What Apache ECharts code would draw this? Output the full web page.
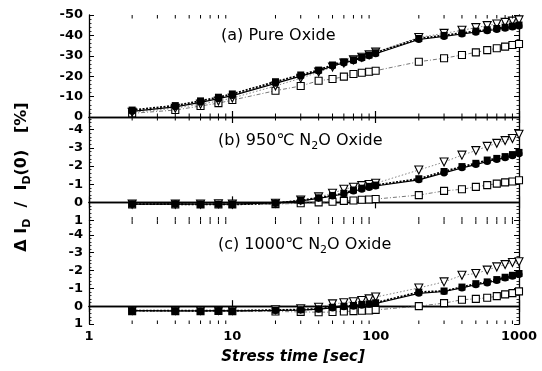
<!DOCTYPE html>
<html><head><meta charset="utf-8">
<script src="https://cdn.jsdelivr.net/npm/echarts@6/dist/echarts.min.js"></script>
<style>html,body{margin:0;padding:0;background:#fff}#c{width:542px;height:371px}</style>
</head><body><div id="c"></div>
<script>
// ---- data ----
const times = [2,4,6,8,10,20,30,40,50,60,70,80,90,100,200,300,400,500,600,700,800,900,1000];
const xMinorTicks = [2,3,4,5,6,7,8,9,20,30,40,50,60,70,80,90,200,300,400,500,600,700,800,900];

const yTicksA = [-50,-40,-30,-20,-10,0];
const yTicksB = [-4,-3,-2,-1,0,1];
const yTicksC = [-4,-3,-2,-1,0,1];

// panel (a) Pure Oxide
const aSqFilled = [-3.4,-5.6,-7.9,-9.7,-11.3,-17.3,-20.6,-23,-25.5,-27,-28,-29.2,-30.4,-31.5,-38.5,-40,-41.2,-42.1,-42.8,-43.4,-44,-44.6,-45.1];
const aCircle   = [-2.8,-5,-7.2,-9,-10.5,-16.5,-20,-22.5,-25,-26.5,-27.6,-28.8,-30,-31,-38,-39.5,-40.7,-41.6,-42.3,-42.9,-43.5,-44.1,-44.6];
const aTriOpen  = [-2.3,-4.3,-6.3,-7.8,-9.3,-15.2,-19,-22,-24.5,-26.5,-28,-29.3,-30.5,-31.8,-39,-41,-42.5,-43.8,-44.8,-45.6,-46.4,-47,-47.6];
const aSqOpen   = [-1.8,-3.4,-5.4,-6.8,-8.3,-12.9,-15.2,-17.8,-18.6,-19.8,-21.1,-21.7,-22.2,-22.7,-27.1,-28.8,-30.4,-31.7,-32.8,-33.7,-34.5,-35.3,-35.8];

// panel (b) 950C N2O Oxide
const bSqFilled = [0.1,0.1,0.12,0.1,0.12,0.05,-0.1,-0.25,-0.38,-0.5,-0.68,-0.78,-0.88,-0.95,-1.3,-1.7,-1.97,-2.15,-2.33,-2.42,-2.52,-2.63,-2.75];
const bCircle   = [0.1,0.08,0.1,0.1,0.1,0.03,-0.08,-0.22,-0.35,-0.47,-0.62,-0.72,-0.82,-0.9,-1.24,-1.62,-1.9,-2.08,-2.25,-2.36,-2.46,-2.56,-2.68];
const bTriOpen  = [0.1,0.1,0.1,0.08,0.1,0.05,-0.12,-0.3,-0.5,-0.72,-0.83,-0.92,-0.98,-1.05,-1.78,-2.22,-2.6,-2.85,-3.08,-3.25,-3.4,-3.52,-3.75];
const bSqOpen   = [0.12,0.12,0.12,0.12,0.12,0.1,0.05,0,-0.03,-0.08,-0.1,-0.14,-0.16,-0.18,-0.4,-0.63,-0.72,-0.85,-0.95,-1.03,-1.1,-1.15,-1.22];

// panel (c) 1000C N2O Oxide
const cSqFilled = [0.25,0.25,0.26,0.25,0.26,0.22,0.2,0.15,0.06,0,-0.04,-0.1,-0.13,-0.19,-0.79,-0.85,-1.07,-1.26,-1.36,-1.49,-1.62,-1.73,-1.83];
const cCircle   = [0.25,0.27,0.27,0.25,0.27,0.24,0.22,0.17,0.1,0.04,0,-0.05,-0.1,-0.15,-0.72,-0.82,-1.02,-1.2,-1.3,-1.44,-1.58,-1.68,-1.78];
const cTriOpen  = [0.25,0.25,0.25,0.25,0.25,0.2,0.15,0.06,-0.13,-0.19,-0.25,-0.32,-0.41,-0.51,-1.02,-1.36,-1.73,-1.83,-2.02,-2.2,-2.33,-2.45,-2.49];
const cSqOpen   = [0.28,0.28,0.28,0.27,0.28,0.3,0.32,0.34,0.33,0.3,0.28,0.26,0.24,0.21,0,-0.17,-0.36,-0.41,-0.47,-0.56,-0.66,-0.73,-0.83];

// ---- chart ----
function steps(from, to, step) { const r = []; for (let v = from; v <= to + 1e-9; v += step) r.push(Math.round(v * 100) / 100); return r; }

const panels = [
  { top: 15,    height: 102,   range: [-50, 0],  ticks: yTicksA, minor: steps(-50, 0, 2),
    sets: [aSqOpen, aTriOpen, aCircle, aSqFilled] },
  { top: 117,   height: 103.5, range: [-4.7, 1], ticks: yTicksB, minor: steps(-4.6, 1, 0.2),
    sets: [bSqOpen, bTriOpen, bCircle, bSqFilled] },
  { top: 220.5, height: 103.5, range: [-4.8, 1], ticks: yTicksC, minor: steps(-4.8, 1, 0.2),
    sets: [cSqOpen, cTriOpen, cCircle, cSqFilled] }
];

const FONT = 'DejaVu Sans';
const black = '#000';
const styles = [
  { symbol: 'rect', symbolSize: 7, symbolRotate: 0, itemStyle: { color: '#fff', borderColor: black, borderWidth: 1.1 },
    lineStyle: { color: '#555', width: 0.8, type: [4, 2, 1, 2] } },
  { symbol: 'triangle', symbolSize: 8, symbolRotate: 180, itemStyle: { color: '#fff', borderColor: black, borderWidth: 1.1 },
    lineStyle: { color: '#666', width: 0.8, type: [1.5, 2] } },
  { symbol: 'circle', symbolSize: 7, symbolRotate: 0, itemStyle: { color: black, borderColor: black, borderWidth: 0 },
    lineStyle: { color: black, width: 1.2, type: 'solid' } },
  { symbol: 'rect', symbolSize: 7, symbolRotate: 0, itemStyle: { color: black, borderColor: black, borderWidth: 0 },
    lineStyle: { color: black, width: 1.8, type: [2, 1.5] } }
];

const option = { animation: false, backgroundColor: '#fff', grid: [], xAxis: [], yAxis: [], series: [], graphic: [] };

panels.forEach((p, i) => {
  option.grid.push({ left: 89, right: 23, top: p.top, height: p.height });
  const xBase = {
    type: 'log', logBase: 10, min: 1, max: 1000, gridIndex: i,
    splitLine: { show: false },
    axisLine: { lineStyle: { color: black, width: 1.3 } },
    axisTick: { inside: true, length: 6, lineStyle: { color: black, width: 1.2 } }
  };
  const xi = option.xAxis.length;
  option.xAxis.push(Object.assign({}, xBase, {
    position: 'bottom',
    axisLabel: { show: i === 2, margin: 6, color: black, fontFamily: FONT, fontWeight: 'bold', fontSize: 13,
      formatter: v => String(Math.round(v)) }
  }));
  option.xAxis.push(Object.assign({}, xBase, { position: 'top', axisLabel: { show: false } }));

  const yBase = { type: 'value', inverse: true, min: p.range[0], max: p.range[1], gridIndex: i, splitLine: { show: false } };
  const yi = option.yAxis.length;
  ['left', 'right'].forEach(pos => {
    option.yAxis.push(Object.assign({}, yBase, {
      position: pos,
      axisLine: { show: true, lineStyle: { color: black, width: 1.3 } },
      axisTick: { inside: true, length: 5, customValues: p.ticks, lineStyle: { color: black, width: 1 } },
      axisLabel: { show: pos === 'left', customValues: p.ticks, margin: 6, color: black, fontFamily: FONT, fontWeight: 'bold', fontSize: 13,
        formatter: v => String(Math.round(v)) }
    }));
    option.yAxis.push(Object.assign({}, yBase, {
      position: pos,
      axisLine: { show: false },
      axisTick: { inside: true, length: 2.5, customValues: p.minor, lineStyle: { color: black, width: 0.8 } },
      axisLabel: { show: false }
    }));
  });

  p.sets.forEach((vals, k) => {
    const s = styles[k];
    option.series.push({
      type: 'line', xAxisIndex: xi, yAxisIndex: yi,
      data: times.map((t, j) => [t, vals[j]]),
      symbol: s.symbol, symbolSize: s.symbolSize, symbolRotate: s.symbolRotate,
      itemStyle: s.itemStyle, lineStyle: s.lineStyle, z: 2 + k
    });
  });

  // minor log ticks of the x axis (top and bottom edges of each panel)
  const yTop = p.range[0], yBot = p.range[1];
  option.series.push({
    type: 'custom', xAxisIndex: xi, yAxisIndex: yi, silent: true, clip: false, z: 10,
    data: xMinorTicks.map(v => [v, yTop, yBot]),
    encode: { x: 0, y: [1, 2] },
    renderItem: (params, api) => {
      const a = api.coord([api.value(0), api.value(1)]);
      const b = api.coord([api.value(0), api.value(2)]);
      const L = 3.5;
      return { type: 'group', children: [
        { type: 'line', shape: { x1: a[0], y1: a[1], x2: a[0], y2: a[1] + L }, style: { stroke: black, lineWidth: 1 } },
        { type: 'line', shape: { x1: b[0], y1: b[1], x2: b[0], y2: b[1] - L }, style: { stroke: black, lineWidth: 1 } }
      ] };
    }
  });
});

const annFont = { fontFamily: FONT, fontSize: 16, color: black };
option.graphic = [
  { type: 'text', left: 221, top: 28, style: { text: '(a) Pure Oxide', font: '16px "DejaVu Sans"', fill: black } },
  { type: 'text', left: 218, top: 133, style: {
      text: '{n|(b) 950℃ N}{s|2}{n|O Oxide}',
      rich: { n: annFont, s: { fontFamily: FONT, fontSize: 11, color: black, padding: [10, 0, 0, 0] } } } },
  { type: 'text', left: 218, top: 237, style: {
      text: '{n|(c) 1000℃ N}{s|2}{n|O Oxide}',
      rich: { n: annFont, s: { fontFamily: FONT, fontSize: 11, color: black, padding: [10, 0, 0, 0] } } } },
  { type: 'text', x: 293, y: 357, style: {
      text: 'Stress time [sec]', font: 'italic bold 15px "DejaVu Sans"', fill: black, align: 'center', verticalAlign: 'middle' } },
  { type: 'text', x: 22, y: 177, rotation: Math.PI / 2, style: {
      text: '{n|Δ I}{s|D}{n|  /  I}{s|D}{n|(0)   [%]}', align: 'center', verticalAlign: 'middle',
      rich: { n: { fontFamily: FONT, fontSize: 16, fontWeight: 'bold', color: black },
              s: { fontFamily: FONT, fontSize: 11, fontWeight: 'bold', color: black, padding: [10, 0, 0, 0] } } } }
];

const chart = echarts.init(document.getElementById('c'), null, { renderer: 'canvas' });
chart.setOption(option);
</script>
</body></html>
